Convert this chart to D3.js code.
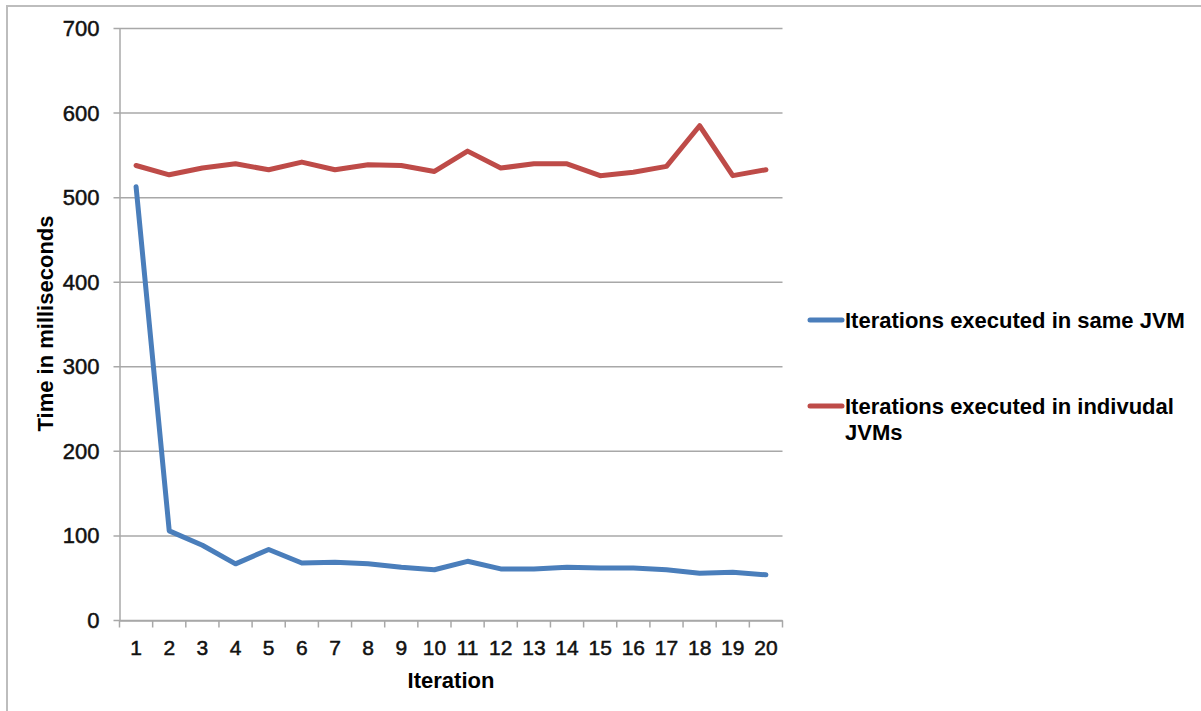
<!DOCTYPE html>
<html>
<head>
<meta charset="utf-8">
<script src="https://cdn.jsdelivr.net/npm/d3@7"></script>
<style>
  body { margin: 0; background: #fff; }
  svg { display: block; font-family: "Liberation Sans", Arial, sans-serif; }
</style>
</head>
<body>
<div id="chart"></div>
<script>
const iterations = d3.range(1, 21);
const sameJvm = [513, 106, 89, 67, 84, 68, 69, 67, 63, 60, 70, 61, 61, 63, 62, 62, 60, 56, 57, 54];
const separateJvms = [538, 527, 535, 540, 533, 542, 533, 539, 538, 531, 555, 535, 540, 540, 526, 530, 537, 585, 526, 533];
const yTicks = [0, 100, 200, 300, 400, 500, 600, 700];
const seriesNames = ["Iterations executed in same JVM", "Iterations executed in indivudal JVMs"];

const W = 1201, H = 711;
const margin = {top: 28.5, right: 418.5, bottom: 90.5, left: 119.5};
const width = W - margin.left - margin.right,
    height = H - margin.top - margin.bottom;

const colors = ["#4a7ebb", "#be4b48"];
const gridColor = "#a8a8a8";

const svg = d3.select("#chart").append("svg")
    .attr("width", W)
    .attr("height", H);

// frame
svg.append("path")
    .attr("d", `M7,711 L7,6 L${W},6`)
    .attr("fill", "none")
    .attr("stroke", "#bdbdbd")
    .attr("stroke-width", 2);

const g = svg.append("g")
    .attr("transform", `translate(${margin.left},${margin.top})`);

const x = d3.scaleBand()
    .domain(iterations)
    .range([0, width])
    .padding(0);

const y = d3.scaleLinear()
    .domain([0, 700])
    .range([height, 0]);

// gridlines
g.append("g").selectAll("line")
    .data(yTicks)
    .enter().append("line")
    .attr("x1", -6)
    .attr("x2", width)
    .attr("y1", d => y(d))
    .attr("y2", d => y(d))
    .attr("stroke", gridColor)
    .attr("stroke-width", 1.5);

// y axis
const axisY = g.append("g")
    .call(d3.axisLeft(y).tickValues(yTicks).tickSize(0).tickPadding(20));
axisY.select(".domain")
    .attr("stroke", gridColor)
    .attr("stroke-width", 1.5);
axisY.selectAll("text")
    .attr("font-size", 22)
    .attr("fill", "#111")
    .attr("stroke", "#111")
    .attr("stroke-width", 0.5)
    .attr("font-family", "Liberation Sans, Arial, sans-serif");

// x axis
const axisX = g.append("g")
    .attr("transform", `translate(0,${height})`)
    .call(d3.axisBottom(x).tickSize(0).tickPadding(20));
axisX.select(".domain")
    .attr("stroke", gridColor)
    .attr("stroke-width", 1.5);
axisX.selectAll("text")
    .attr("font-size", 21)
    .attr("fill", "#111")
    .attr("stroke", "#111")
    .attr("stroke-width", 0.5)
    .attr("font-family", "Liberation Sans, Arial, sans-serif");

// category boundary ticks
g.append("g").selectAll("line")
    .data(iterations.concat([null]))
    .enter().append("line")
    .attr("x1", (d, i) => i * x.step())
    .attr("x2", (d, i) => i * x.step())
    .attr("y1", height)
    .attr("y2", height + 7)
    .attr("stroke", gridColor)
    .attr("stroke-width", 1.5);

// titles
g.append("text")
    .attr("x", width / 2)
    .attr("y", height + 67)
    .attr("text-anchor", "middle")
    .attr("font-size", 22)
    .attr("font-weight", "bold")
    .text("Iteration");

g.append("text")
    .attr("transform", `translate(${45 - margin.left},${height / 2 - 1}) rotate(-90)`)
    .attr("text-anchor", "middle")
    .attr("dy", "0.35em")
    .attr("font-size", 22)
    .attr("font-weight", "bold")
    .text("Time in milliseconds");

// lines
const line = d3.line()
    .x((d, i) => x(iterations[i]) + x.bandwidth() / 2)
    .y(d => y(d));

[sameJvm, separateJvms].forEach((s, k) => {
    g.append("path")
        .datum(s)
        .attr("fill", "none")
        .attr("stroke", colors[k])
        .attr("stroke-width", 5)
        .attr("stroke-linejoin", "round")
        .attr("stroke-linecap", "round")
        .attr("d", line);
});

// legend
const legend = svg.append("g").attr("transform", "translate(808,0)");
const legendRows = [
    {y: 320, lines: ["Iterations executed in same JVM"]},
    {y: 406, lines: ["Iterations executed in indivudal", "JVMs"]}
];
legendRows.forEach((row, k) => {
    legend.append("line")
        .attr("x1", 2).attr("x2", 34)
        .attr("y1", row.y).attr("y2", row.y)
        .attr("stroke", colors[k])
        .attr("stroke-width", 5)
        .attr("stroke-linecap", "round");
    const t = legend.append("text")
        .attr("x", 37)
        .attr("y", row.y)
        .attr("font-size", 22)
        .attr("font-weight", "bold");
    row.lines.forEach((s, j) => {
        t.append("tspan")
            .attr("x", 37)
            .attr("dy", j === 0 ? "0.36em" : "1.2em")
            .text(s);
    });
});
</script>
</body>
</html>
